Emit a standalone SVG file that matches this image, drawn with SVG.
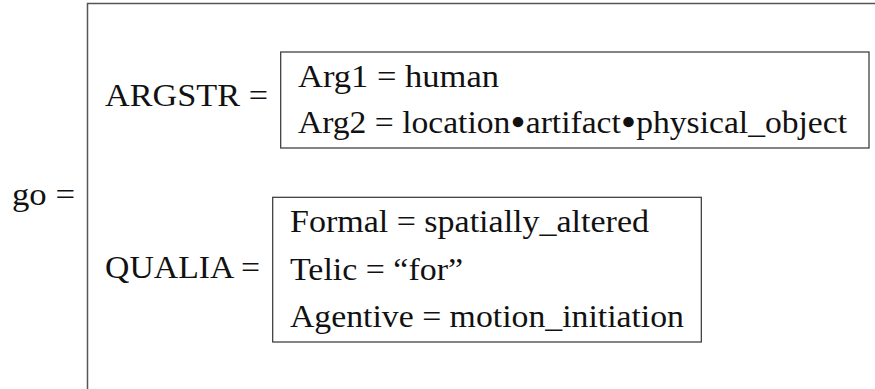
<svg xmlns="http://www.w3.org/2000/svg" width="875" height="389" viewBox="0 0 875 389">
<style>
text{font-family:"Liberation Serif","DejaVu Serif",serif;font-size:32px;fill:#111}
.b{font-size:42px}
.box{fill:none;stroke:#333;stroke-width:1.2}
.outer{fill:none;stroke:#555;stroke-width:1.5}
</style>
<rect width="875" height="389" fill="#fff"/>
<g id="go">
<text x="12" y="205" textLength="63" lengthAdjust="spacingAndGlyphs">go =</text>
</g>
<g id="outer">
<path class="outer" d="M87.5 389 V3.5 H875"/>
</g>
<g id="argstr">
<text x="105" y="106" textLength="163" lengthAdjust="spacingAndGlyphs">ARGSTR =</text>
<rect class="box" x="280.7" y="52" width="588.3" height="96"/>
<text x="298" y="87" textLength="201" lengthAdjust="spacingAndGlyphs">Arg1 = human</text>
<text x="298" y="133" textLength="549" lengthAdjust="spacingAndGlyphs">Arg2 = location<tspan class="b" dy="3">•</tspan><tspan dy="-3">artifact</tspan><tspan class="b" dy="3">•</tspan><tspan dy="-3">physical_object</tspan></text>
</g>
<g id="qualia">
<text x="105" y="278" textLength="155" lengthAdjust="spacingAndGlyphs">QUALIA =</text>
<rect class="box" x="272.7" y="197.3" width="428.6" height="144.7"/>
<text x="290" y="232" textLength="359" lengthAdjust="spacingAndGlyphs">Formal = spatially_altered</text>
<text x="290" y="280" textLength="173" lengthAdjust="spacingAndGlyphs">Telic = “for”</text>
<text x="290" y="327" textLength="394" lengthAdjust="spacingAndGlyphs">Agentive = motion_initiation</text>
</g>
<g id="connectors"></g>
</svg>
